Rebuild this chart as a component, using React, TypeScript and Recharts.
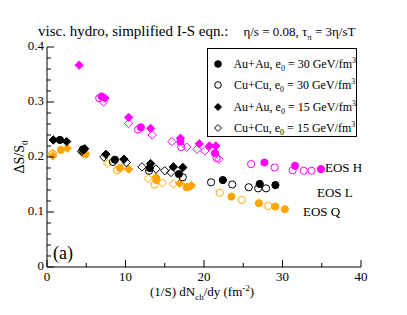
import React from 'react';
import { ScatterChart, Scatter, XAxis, YAxis, Legend } from 'recharts';

// tick values
const X_TICKS = [0, 5, 10, 15, 20, 25, 30, 35, 40];
const Y_TICKS = [0, 0.02, 0.04, 0.06, 0.08, 0.1, 0.12, 0.14, 0.16, 0.18, 0.2, 0.22, 0.24, 0.26, 0.28, 0.3, 0.32, 0.34, 0.36, 0.38, 0.4];

// EOS H (magenta)
const hAuAu30 = [
  { x: 6.96, y: 0.31 }, { x: 11.96, y: 0.254 }, { x: 17.0, y: 0.228 }, { x: 21.4, y: 0.207 },
  { x: 27.7, y: 0.19 }, { x: 31.6, y: 0.184 }, { x: 34.9, y: 0.178 },
];
const hCuCu30 = [
  { x: 6.65, y: 0.307 }, { x: 11.6, y: 0.25 }, { x: 17.1, y: 0.218 }, { x: 21.6, y: 0.198 },
  { x: 26.0, y: 0.187 }, { x: 29.0, y: 0.181 }, { x: 31.3, y: 0.176 }, { x: 32.7, y: 0.175 }, { x: 33.7, y: 0.175 },
];
const hAuAu15 = [
  { x: 4.1, y: 0.367 }, { x: 7.4, y: 0.307 }, { x: 10.4, y: 0.272 }, { x: 13.2, y: 0.252 },
  { x: 17.0, y: 0.234 }, { x: 19.4, y: 0.224 }, { x: 20.7, y: 0.22 }, { x: 21.5, y: 0.22 },
];
const hCuCu15 = [
  { x: 7.2, y: 0.3 }, { x: 10.4, y: 0.261 }, { x: 13.4, y: 0.24 }, { x: 15.9, y: 0.228 },
  { x: 17.8, y: 0.218 }, { x: 19.1, y: 0.214 }, { x: 20.1, y: 0.211 }, { x: 21.9, y: 0.196 },
];

// EOS L (black)
const lAuAu30 = [
  { x: 1.65, y: 0.231 }, { x: 4.6, y: 0.214 }, { x: 8.65, y: 0.195 }, { x: 13.1, y: 0.18 },
  { x: 16.8, y: 0.169 }, { x: 22.4, y: 0.158 }, { x: 27.1, y: 0.151 }, { x: 29.1, y: 0.149 },
];
const lCuCu30 = [
  { x: 4.5, y: 0.212 }, { x: 8.4, y: 0.191 }, { x: 13.0, y: 0.175 }, { x: 17.3, y: 0.163 },
  { x: 20.9, y: 0.154 }, { x: 23.6, y: 0.15 }, { x: 25.7, y: 0.145 }, { x: 26.9, y: 0.143 }, { x: 27.9, y: 0.143 },
];
const lAuAu15 = [
  { x: 0.8, y: 0.231 }, { x: 2.5, y: 0.228 }, { x: 4.8, y: 0.215 }, { x: 7.5, y: 0.205 },
  { x: 9.8, y: 0.196 }, { x: 13.2, y: 0.188 }, { x: 16.1, y: 0.182 }, { x: 17.3, y: 0.181 },
];
const lCuCu15 = [
  { x: 4.4, y: 0.21 }, { x: 7.25, y: 0.2 }, { x: 10.1, y: 0.19 }, { x: 12.1, y: 0.182 },
  { x: 13.9, y: 0.178 }, { x: 15.0, y: 0.175 }, { x: 15.8, y: 0.172 },
];

// EOS Q (orange)
const qAuAu30 = [
  { x: 1.78, y: 0.213 }, { x: 4.9, y: 0.205 }, { x: 9.3, y: 0.18 }, { x: 13.95, y: 0.158 },
  { x: 17.8, y: 0.145 }, { x: 23.5, y: 0.128 }, { x: 27.0, y: 0.116 }, { x: 29.1, y: 0.11 }, { x: 30.3, y: 0.105 },
];
const qCuCu30 = [
  { x: 0.7, y: 0.205 }, { x: 4.7, y: 0.207 }, { x: 8.95, y: 0.176 }, { x: 13.7, y: 0.15 },
  { x: 17.9, y: 0.145 }, { x: 22.0, y: 0.135 }, { x: 24.8, y: 0.122 }, { x: 28.2, y: 0.111 },
];
const qAuAu15 = [
  { x: 0.75, y: 0.202 }, { x: 2.6, y: 0.216 }, { x: 4.8, y: 0.208 }, { x: 10.4, y: 0.178 },
  { x: 13.9, y: 0.163 }, { x: 16.9, y: 0.152 }, { x: 18.4, y: 0.148 },
];
const qCuCu15 = [
  { x: 0.72, y: 0.207 }, { x: 7.7, y: 0.188 }, { x: 12.9, y: 0.161 }, { x: 14.7, y: 0.153 }, { x: 16.1, y: 0.151 },
];

const MAGENTA = '#ff00ff';
const BLACK = '#000000';
const ORANGE = '#ffa500';
const FONT = 'Liberation Serif, serif';

const isMajorX = (v: number) => v % 10 === 0;
const isMajorY = (v: number) => Math.abs(v * 10 - Math.round(v * 10)) < 1e-6;

const makeShape = (kind: 'circle' | 'diamond', filled: boolean, color: string, r = 3.6) => (props: any) => {
  const { cx, cy } = props;
  if (cx == null || cy == null) return <g />;
  const fill = filled ? color : 'none';
  if (kind === 'circle') {
    return <circle cx={cx} cy={cy} r={r} fill={fill} stroke={color} strokeWidth={1} />;
  }
  const d = r + 0.6;
  return (
    <polygon
      points={`${cx},${cy - d} ${cx + d},${cy} ${cx},${cy + d} ${cx - d},${cy}`}
      fill={fill}
      stroke={color}
      strokeWidth={1}
    />
  );
};

const BottomTick = (props: any) => {
  const { x, y, payload } = props;
  const major = isMajorX(payload.value);
  return (
    <g>
      <line x1={x} y1={y} x2={x} y2={y - (major ? 7 : 4)} stroke="#000" />
      {major && (
        <text x={x} y={y + 14} textAnchor="middle" style={{ fontSize: 13, fontFamily: FONT }} fill="#000">
          {payload.value}
        </text>
      )}
    </g>
  );
};

const TopTick = (props: any) => {
  const { x, y, payload } = props;
  const major = isMajorX(payload.value);
  return <line x1={x} y1={y} x2={x} y2={y + (major ? 7 : 4)} stroke="#000" />;
};

const LeftTick = (props: any) => {
  const { x, y, payload } = props;
  const major = isMajorY(payload.value);
  return (
    <g>
      <line x1={x} y1={y} x2={x + (major ? 7 : 4)} y2={y} stroke="#000" />
      {major && (
        <text x={x - 3} y={y + 3} textAnchor="end" style={{ fontSize: 13, fontFamily: FONT }} fill="#000">
          {Number(payload.value.toFixed(1)).toString()}
        </text>
      )}
    </g>
  );
};

const RightTick = (props: any) => {
  const { x, y, payload } = props;
  const major = isMajorY(payload.value);
  return <line x1={x} y1={y} x2={x - (major ? 7 : 4)} y2={y} stroke="#000" />;
};

const LegendIcon = ({ kind, filled }: { kind: 'circle' | 'diamond'; filled: boolean }) => (
  <svg width={12} height={12} style={{ display: 'block' }}>
    {kind === 'circle' ? (
      <circle cx={6} cy={6} r={3.3} fill={filled ? '#000' : 'none'} stroke="#000" />
    ) : (
      <polygon points="6,2.5 9.5,6 6,9.5 2.5,6" fill={filled ? '#000' : 'none'} stroke="#000" />
    )}
  </svg>
);

const LEGEND_ROWS: { kind: 'circle' | 'diamond'; filled: boolean; sys: string; e0: string }[] = [
  { kind: 'circle', filled: true, sys: 'Au+Au', e0: '30' },
  { kind: 'circle', filled: false, sys: 'Cu+Cu', e0: '30' },
  { kind: 'diamond', filled: true, sys: 'Au+Au', e0: '15' },
  { kind: 'diamond', filled: false, sys: 'Cu+Cu', e0: '15' },
];

const renderLegend = () => (
  <div
    style={{
      border: '1px solid #000',
      background: '#fff',
      width: 150,
      height: 89,
      boxSizing: 'border-box',
      padding: '4px 0 0 4px',
      fontFamily: FONT,
      fontSize: 12,
      color: '#000',
    }}
  >
    {LEGEND_ROWS.map((r, i) => (
      <div key={i} style={{ display: 'flex', alignItems: 'center', height: 21.5, whiteSpace: 'nowrap', lineHeight: '14px' }}>
        <LegendIcon kind={r.kind} filled={r.filled} />
        <span style={{ marginLeft: 10 }}>
          {r.sys}, e<sub style={{ fontSize: 8, lineHeight: 0 }}>0</sub> = {r.e0} GeV/fm
          <sup style={{ fontSize: 8, lineHeight: 0 }}>3</sup>
        </span>
      </div>
    ))}
  </div>
);

const App: React.FC = () => {
  return (
    <div style={{ position: 'absolute', left: 0, top: 0, width: 407, height: 315, background: '#fff', fontFamily: FONT }}>
      <ScatterChart width={407} height={315} margin={{ top: 47, right: 46, bottom: 18, left: 0 }}>
        <XAxis
          type="number"
          dataKey="x"
          domain={[0, 40]}
          ticks={X_TICKS}
          interval={0}
          allowDataOverflow
          height={30}
          tickSize={0}
          tickMargin={0}
          tick={<BottomTick />}
          axisLine={{ stroke: '#000', strokeWidth: 1 }}
        />
        <XAxis
          xAxisId="top"
          orientation="top"
          type="number"
          dataKey="x"
          domain={[0, 40]}
          ticks={X_TICKS}
          interval={0}
          allowDataOverflow
          height={0}
          tickSize={0}
          tickMargin={0}
          tick={<TopTick />}
          axisLine={{ stroke: '#000', strokeWidth: 1 }}
        />
        <YAxis
          type="number"
          dataKey="y"
          domain={[0, 0.4]}
          ticks={Y_TICKS}
          interval={0}
          allowDataOverflow
          width={47}
          tickSize={0}
          tickMargin={0}
          tick={<LeftTick />}
          axisLine={{ stroke: '#000', strokeWidth: 1 }}
        />
        <YAxis
          yAxisId="right"
          orientation="right"
          type="number"
          dataKey="y"
          domain={[0, 0.4]}
          ticks={Y_TICKS}
          interval={0}
          allowDataOverflow
          width={0}
          tickSize={0}
          tickMargin={0}
          tick={<RightTick />}
          axisLine={{ stroke: '#000', strokeWidth: 1 }}
        />
        <Legend
          layout="vertical"
          align="center"
          verticalAlign="middle"
          content={renderLegend}
          wrapperStyle={{ left: 207, top: 48, width: 150, height: 89 }}
        />

        <Scatter name="H Cu+Cu 15" data={hCuCu15} shape={makeShape('diamond', false, MAGENTA)} isAnimationActive={false} />
        <Scatter name="H Cu+Cu 30" data={hCuCu30} shape={makeShape('circle', false, MAGENTA)} isAnimationActive={false} />
        <Scatter name="H Au+Au 15" data={hAuAu15} shape={makeShape('diamond', true, MAGENTA)} isAnimationActive={false} />
        <Scatter name="H Au+Au 30" data={hAuAu30} shape={makeShape('circle', true, MAGENTA)} isAnimationActive={false} />

        <Scatter name="Q Cu+Cu 15" data={qCuCu15} shape={makeShape('diamond', false, ORANGE)} isAnimationActive={false} />
        <Scatter name="Q Cu+Cu 30" data={qCuCu30} shape={makeShape('circle', false, ORANGE)} isAnimationActive={false} />
        <Scatter name="Q Au+Au 15" data={qAuAu15} shape={makeShape('diamond', true, ORANGE)} isAnimationActive={false} />
        <Scatter name="Q Au+Au 30" data={qAuAu30} shape={makeShape('circle', true, ORANGE)} isAnimationActive={false} />

        <Scatter name="L Cu+Cu 15" data={lCuCu15} shape={makeShape('diamond', false, BLACK)} isAnimationActive={false} />
        <Scatter name="L Cu+Cu 30" data={lCuCu30} shape={makeShape('circle', false, BLACK)} isAnimationActive={false} />
        <Scatter name="L Au+Au 15" data={lAuAu15} shape={makeShape('diamond', true, BLACK)} isAnimationActive={false} />
        <Scatter name="L Au+Au 30" data={lAuAu30} shape={makeShape('circle', true, BLACK)} isAnimationActive={false} />
      </ScatterChart>

      {/* title */}
      <div style={{ position: 'absolute', left: 38, top: 22, whiteSpace: 'nowrap', color: '#000', lineHeight: '17px' }}>
        <span style={{ fontSize: 15 }}>visc. hydro, simplified I-S eqn.:</span>
        <span style={{ fontSize: 13, marginLeft: 15 }}>
          η/s = 0.08, τ<sub style={{ fontSize: 9, lineHeight: 0 }}>π</sub> = 3η/sT
        </span>
      </div>

      {/* EOS labels */}
      <div style={{ position: 'absolute', left: 47, top: 47, width: 314, height: 220, fontSize: 13, color: '#000', whiteSpace: 'nowrap' }}>
        <div style={{ position: 'absolute', left: 278, top: 113 }}>EOS H</div>
        <div style={{ position: 'absolute', left: 270, top: 138 }}>EOS L</div>
        <div style={{ position: 'absolute', left: 256, top: 157 }}>EOS Q</div>
        <div style={{ position: 'absolute', left: 6, top: 196, fontSize: 18 }}>(a)</div>
      </div>

      {/* axis labels */}
      <div style={{ position: 'absolute', left: 150, top: 284, fontSize: 13, whiteSpace: 'nowrap', color: '#000' }}>
        (1/S) dN<sub style={{ fontSize: 9, lineHeight: 0 }}>ch</sub>/dy (fm<sup style={{ fontSize: 9, lineHeight: 0 }}>-2</sup>)
      </div>
      <div
        style={{
          position: 'absolute',
          left: 20,
          top: 157,
          fontSize: 14,
          whiteSpace: 'nowrap',
          color: '#000',
          transform: 'translate(-50%, -50%) rotate(-90deg)',
        }}
      >
        ΔS/S<sub style={{ fontSize: 9, lineHeight: 0 }}>0</sub>
      </div>
    </div>
  );
};

export default App;
